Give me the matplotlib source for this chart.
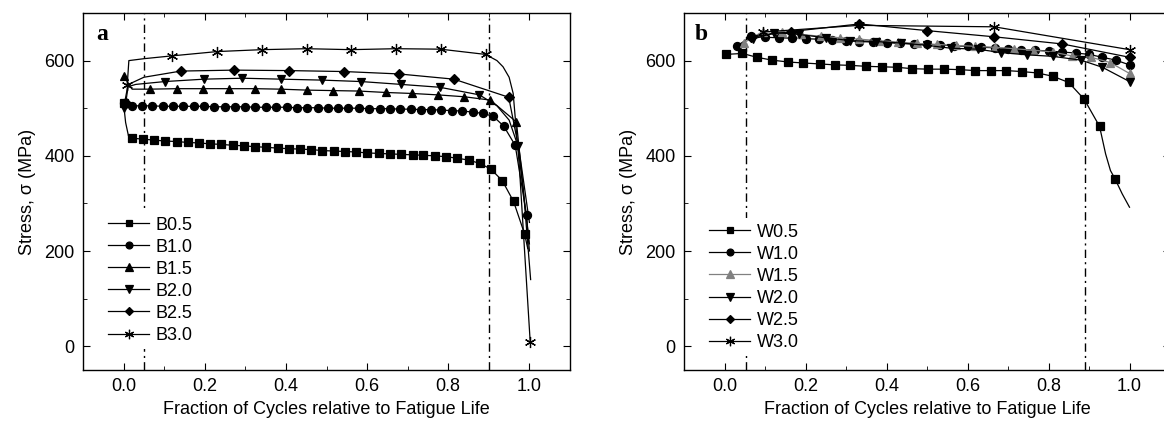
import matplotlib
matplotlib.use("Agg")
import matplotlib.pyplot as plt
from matplotlib.ticker import MultipleLocator

plt.rcParams.update({
    "font.family": ["Liberation Sans", "DejaVu Sans"],
    "font.size": 13,
    "axes.linewidth": 1.0,
    "xtick.direction": "in",
    "ytick.direction": "in",
    "xtick.top": True,
    "ytick.right": True,
    "xtick.major.size": 5,
    "ytick.major.size": 5,
    "xtick.minor.size": 3,
    "ytick.minor.size": 3,
    "xtick.major.pad": 6,
    "ytick.major.pad": 6,
})

# ---------------- panel a (B series) ----------------
b05_x = [0.0, 0.005, 0.012, 0.020, 0.048, 0.075, 0.103, 0.131, 0.158, 0.186, 0.214, 0.241, 0.269,
         0.297, 0.324, 0.352, 0.380, 0.407, 0.435, 0.463, 0.490, 0.518, 0.546, 0.573,
         0.601, 0.629, 0.656, 0.684, 0.712, 0.739, 0.767, 0.795, 0.822, 0.850, 0.878,
         0.905, 0.933, 0.961, 0.988, 0.996]
b05_y = [510, 470, 442, 437, 435, 433, 431, 430, 428, 427, 425, 424, 422,
         421, 419, 418, 416, 415, 414, 413, 411, 410, 409, 408,
         406, 405, 404, 403, 402, 401, 400, 398, 395, 391, 384,
         372, 348, 304, 236, 205]
b05_mk = [0] + list(range(3, 39))

b10_x = [0.0, 0.020, 0.045, 0.071, 0.096, 0.122, 0.147, 0.173, 0.198, 0.224, 0.249, 0.274,
         0.300, 0.325, 0.351, 0.376, 0.402, 0.427, 0.453, 0.478, 0.504, 0.529,
         0.554, 0.580, 0.605, 0.631, 0.656, 0.682, 0.707, 0.733, 0.758, 0.783,
         0.809, 0.834, 0.860, 0.885, 0.911, 0.937, 0.965, 0.993, 1.0]
b10_y = [510, 505, 505, 505, 504, 504, 504, 504, 504, 503, 503, 503,
         503, 502, 502, 502, 502, 501, 501, 501, 500, 500,
         500, 500, 499, 499, 499, 498, 498, 497, 497, 496,
         495, 494, 492, 489, 483, 462, 422, 275, 200]
b10_mk = list(range(0, 40))

b15_x = [0.0, 0.021, 0.065, 0.131, 0.196, 0.260, 0.324, 0.387, 0.452, 0.516, 0.580,
         0.647, 0.710, 0.774, 0.840, 0.904, 0.968, 0.985, 1.003]
b15_y = [568, 540, 540, 541, 541, 541, 541, 540, 538, 537, 536,
         533, 531, 528, 524, 517, 471, 330, 140]
b15_mk = [0] + list(range(2, 17))

b20_x = [0.0, 0.010, 0.030, 0.102, 0.198, 0.293, 0.389, 0.490, 0.585, 0.684, 0.779,
         0.877, 0.920, 0.950, 0.972, 1.0]
b20_y = [500, 545, 550, 556, 561, 563, 561, 559, 556, 550, 544,
         528, 505, 475, 420, 215]
b20_mk = [0] + list(range(3, 12)) + [14]

b25_x = [0.005, 0.012, 0.050, 0.141, 0.272, 0.408, 0.544, 0.678, 0.814, 0.949, 0.975, 1.0]
b25_y = [510, 550, 565, 578, 580, 579, 577, 572, 561, 523, 410, 260]
b25_mk = [0] + list(range(3, 10))

b30_x = [0.009, 0.013, 0.050, 0.120, 0.231, 0.341, 0.451, 0.560, 0.672, 0.781, 0.892,
         0.920, 0.935, 0.950, 0.960, 0.975, 1.002]
b30_y = [549, 600, 604, 610, 619, 623, 625, 623, 625, 624, 613,
         600, 587, 565, 531, 380, 8]
b30_mk = [0] + list(range(3, 11)) + [16]

# ---------------- panel b (W series) ----------------
w05_x = [0.0025, 0.044, 0.080, 0.117, 0.158, 0.195, 0.235, 0.273, 0.311, 0.349, 0.388, 0.425,
         0.464, 0.503, 0.543, 0.581, 0.619, 0.658, 0.696, 0.734, 0.773, 0.811, 0.850,
         0.888, 0.926, 0.941, 0.953, 0.964, 0.982, 1.0]
w05_y = [613, 615, 607, 601, 597, 595, 593, 591, 590, 588, 587, 586,
         583, 582, 582, 581, 579, 579, 579, 577, 574, 567, 554,
         519, 462, 404, 369, 352, 320, 292]
w05_mk = list(range(0, 25)) + [27]

w10_x = [0.030, 0.066, 0.099, 0.134, 0.167, 0.200, 0.233, 0.266, 0.300, 0.333, 0.367, 0.400,
         0.433, 0.467, 0.500, 0.533, 0.567, 0.600, 0.633, 0.667, 0.700, 0.733, 0.767,
         0.800, 0.833, 0.867, 0.900, 0.933, 0.966, 1.0]
w10_y = [630, 651, 649, 648, 647, 646, 645, 643, 642, 640, 639, 638,
         636, 635, 634, 633, 631, 630, 628, 627, 625, 623, 622,
         620, 618, 616, 613, 607, 601, 591]

w15_x = [0.049, 0.094, 0.142, 0.190, 0.238, 0.286, 0.333, 0.381, 0.429, 0.476, 0.524,
         0.571, 0.619, 0.667, 0.714, 0.762, 0.810, 0.857, 0.905, 0.952, 1.0]
w15_y = [638, 661, 660, 655, 651, 648, 645, 642, 639, 636, 634,
         632, 630, 628, 625, 622, 618, 610, 607, 596, 573]

w20_x = [0.070, 0.123, 0.183, 0.250, 0.310, 0.375, 0.436, 0.500, 0.559, 0.625, 0.682,
         0.748, 0.810, 0.880, 0.933, 1.0]
w20_y = [645, 659, 655, 648, 642, 640, 637, 632, 626, 624, 617,
         612, 609, 601, 586, 556]

w25_x = [0.066, 0.164, 0.333, 0.500, 0.666, 0.834, 1.0]
w25_y = [650, 661, 677, 663, 650, 635, 607]

w30_x = [0.094, 0.331, 0.666, 1.0]
w30_y = [660, 674, 671, 623]

b_labels = ["B0.5", "B1.0", "B1.5", "B2.0", "B2.5", "B3.0"]
w_labels = ["W0.5", "W1.0", "W1.5", "W2.0", "W2.5", "W3.0"]
markers = ["s", "o", "^", "v", "D", (6, 2, 0)]
sizes = [5.2, 5.8, 6.2, 6.2, 5.2, 8]

fig = plt.figure(figsize=(11.64, 4.23), dpi=100)
ax1 = fig.add_axes([83 / 1164, 53 / 423, 487 / 1164, 357 / 423])
ax2 = fig.add_axes([684 / 1164, 53 / 423, 486 / 1164, 357 / 423])

b_series = [(b05_x, b05_y, b05_mk), (b10_x, b10_y, b10_mk), (b15_x, b15_y, b15_mk),
            (b20_x, b20_y, b20_mk), (b25_x, b25_y, b25_mk), (b30_x, b30_y, b30_mk)]
for (xs, ys, mk), lab, m, ms in zip(b_series, b_labels, markers, sizes):
    ax1.plot(xs, ys, color="black", lw=0.9, marker=m, ms=ms, mew=0.9,
             markevery=mk, label=lab, zorder=3)

w_series = [(w05_x, w05_y), (w10_x, w10_y), (w15_x, w15_y),
            (w20_x, w20_y), (w25_x, w25_y), (w30_x, w30_y)]
for i, ((xs, ys), lab, m, ms) in enumerate(zip(w_series, w_labels, markers, sizes)):
    col = "#808080" if lab == "W1.5" else "black"
    mk = w05_mk if i == 0 else None
    ax2.plot(xs, ys, color=col, lw=0.9, marker=m, ms=ms, mew=0.9,
             markevery=mk, label=lab, zorder=3)

for ax, lines, ly in ((ax1, (0.05, 0.9), 0.445), (ax2, (0.054, 0.89), 0.425)):
    for xv in lines:
        ax.axvline(xv, color="black", lw=1.0, ls=(0, (6, 3, 1.5, 3)), zorder=1)
    ax.set_xlim(-0.1, 1.1)
    ax.set_ylim(-50, 700)
    ax.xaxis.set_major_locator(MultipleLocator(0.2))
    ax.xaxis.set_minor_locator(MultipleLocator(0.1))
    ax.yaxis.set_major_locator(MultipleLocator(200))
    ax.yaxis.set_minor_locator(MultipleLocator(100))
    ax.tick_params(which="both", top=True, right=True)
    ax.set_xlabel("Fraction of Cycles relative to Fatigue Life", labelpad=4)
    ax.set_ylabel("Stress, σ (MPa)", labelpad=6)
    leg = ax.legend(loc="upper left", bbox_to_anchor=(0.04, ly),
                    frameon=True, fancybox=False, edgecolor="none", framealpha=1,
                    handlelength=2.3, handletextpad=0.35, labelspacing=0.28,
                    borderpad=0.3, borderaxespad=0, fontsize=13, markerscale=0.85)
    leg.set_zorder(5)

ax1.text(0.027, 0.94, "a", transform=ax1.transAxes, fontsize=17, fontweight="bold",
         family=["Liberation Serif", "DejaVu Serif"], va="center", ha="left")
ax2.text(0.023, 0.94, "b", transform=ax2.transAxes, fontsize=17, fontweight="bold",
         family=["Liberation Serif", "DejaVu Serif"], va="center", ha="left")

fig.savefig("out.png", dpi=100)
